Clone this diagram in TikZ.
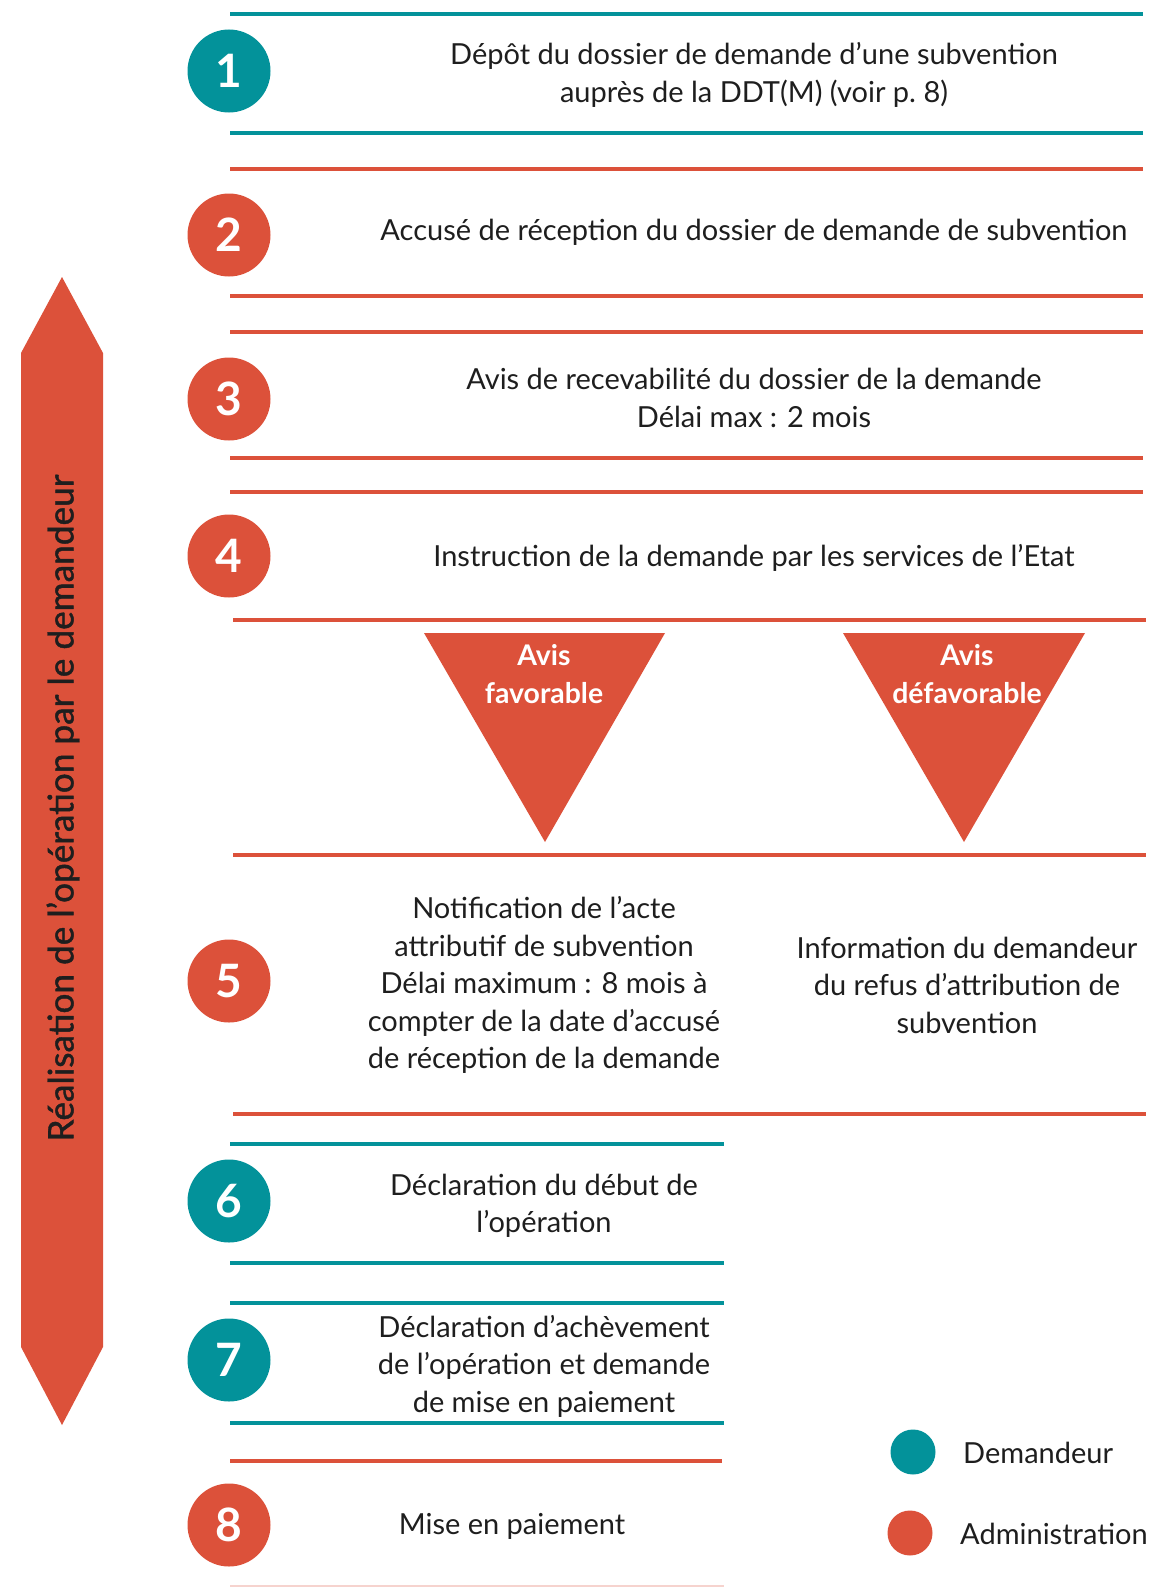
\documentclass[tikz,border=0pt]{standalone}
\usepackage{fontspec}
\setmainfont{Lato}
\newfontfamily\vfont{Lato}[FakeBold=1.2]
\definecolor{tealc}{HTML}{03929A}
\definecolor{redc}{HTML}{DC513A}
\definecolor{txtc}{HTML}{1E1E1E}
\begin{document}
\begin{tikzpicture}[x=1pt,y=-1pt,
  numc/.style={circle,minimum size=83pt,inner sep=0pt,text=white,font=\fontsize{46}{46}\selectfont\bfseries},
  body/.style={align=center,text=txtc,inner sep=0pt,font=\fontsize{29}{37.5}\selectfont},
  tri/.style={align=center,text=white,inner sep=0pt,font=\fontsize{28.4}{38}\selectfont\bfseries},
  tl/.style={line width=4.5pt,tealc},
  rl/.style={line width=4.5pt,redc},
  legc/.style={circle,minimum size=45pt,inner sep=0pt}
]
\useasboundingbox (0,0) rectangle (1166,1587);
% separator lines
\draw[tl] (230,14) -- (1143,14);
\draw[tl] (230,133) -- (1143,133);
\draw[rl] (230,169) -- (1143,169);
\draw[rl] (230,296) -- (1143,296);
\draw[rl] (230,332) -- (1143,332);
\draw[rl] (230,458) -- (1143,458);
\draw[rl] (230,492) -- (1143,492);
\draw[rl] (233,620) -- (1146,620);
\draw[rl] (233,855) -- (1146,855);
\draw[rl] (233,1114) -- (1146,1114);
\draw[tl] (230,1144) -- (724,1144);
\draw[tl] (230,1263) -- (724,1263);
\draw[tl] (230,1303) -- (724,1303);
\draw[tl] (230,1423) -- (724,1423);
\draw[rl] (230,1461) -- (722,1461);
\draw[line width=2pt,redc!25] (230,1586) -- (724,1586);
% big arrow
\fill[redc] (62,277) -- (103,353) -- (103,1347) -- (62,1425) -- (21,1347) -- (21,353) -- cycle;
\node[rotate=90,text=txtc,inner sep=0pt,font=\vfont\fontsize{35.2}{38}\selectfont] (vt) at (63,808) {Réalisation de l’opération par le demandeur};
% circles
\node[numc,fill=tealc] (n1) at (229,71) {1};
\node[numc,fill=redc] (n2) at (229,235) {2};
\node[numc,fill=redc] (n3) at (229,399) {3};
\node[numc,fill=redc] (n4) at (229,556) {4};
\node[numc,fill=redc] (n5) at (229,981) {5};
\node[numc,fill=tealc] (n6) at (229,1201) {6};
\node[numc,fill=tealc] (n7) at (229,1360) {7};
\node[numc,fill=redc] (n8) at (229,1525) {8};
% texts
\node[body] (t1) at (754,75) {Dépôt du dossier de demande d’une subvention\\auprès de la DDT(M) (voir p.\ 8)};
\node[body] (t2) at (754,232) {Accusé de réception du dossier de demande de subvention};
\node[body] (t3) at (754,398) {Avis de recevabilité du dossier de la demande\\Délai max : 2 mois};
\node[body] (t4) at (754,558) {Instruction de la demande par les services de l’Etat};
% triangles
\fill[redc] (424,633) -- (665,633) -- (545,842) -- cycle;
\fill[redc] (843,633) -- (1085,633) -- (964,842) -- cycle;
\node[tri] (a1) at (544,674) {Avis\\favorable};
\node[tri] (a2) at (967,674) {Avis\\défavorable};
% step 5
\node[body] (t5a) at (544,985) {Notification de l’acte\\attributif de subvention\\Délai maximum : 8 mois à\\compter de la date d’accusé\\de réception de la demande};
\node[body] (t5b) at (967,985) {Information du demandeur\\du refus d’attribution de\\subvention};
% steps 6-8
\node[body] (t6) at (544,1206) {Déclaration du début de\\l’opération};
\node[body] (t7) at (544,1366) {Déclaration d’achèvement\\de l’opération et demande\\de mise en paiement};
\node[body] (t8) at (512,1526) {Mise en paiement};
% legend
\node[legc,fill=tealc] (l1) at (913,1452) {};
\node[legc,fill=redc] (l2) at (910,1533) {};
\node[body,anchor=west] (lt1) at (963,1453) {Demandeur};
\node[body,anchor=west] (lt2) at (960,1534) {Administration};
\end{tikzpicture}
\end{document}
